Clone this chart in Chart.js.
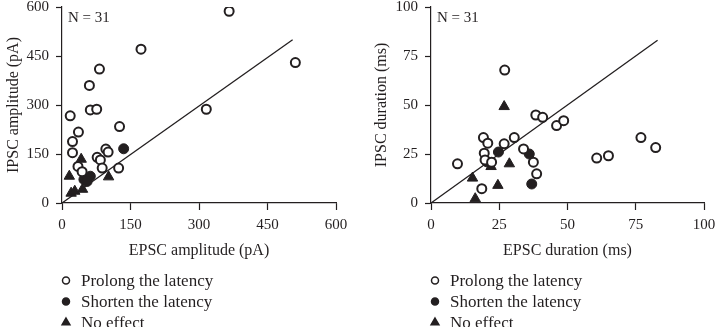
<!DOCTYPE html>
<html>
<head>
<meta charset="utf-8">
<script src="https://cdn.jsdelivr.net/npm/chart.js@4.4.1/dist/chart.umd.min.js"></script>
<style>
    html, body { margin: 0; padding: 0; background: #fff; }
    #wrap { position: relative; width: 717px; height: 327px; overflow: hidden; }
    canvas { position: absolute; top: 0; }
</style>
</head>
<body>
<div id="wrap">
    <canvas id="amp" width="358" height="327" style="left:0"></canvas>
    <canvas id="dur" width="349" height="327" style="left:368px"></canvas>
</div>
<script>
const legendLabels = ["Prolong the latency", "Shorten the latency", "No effect"];
const cellCount = 31;

// amplitude panel, [EPSC, IPSC] in pA
const ampTicks = [0, 150, 300, 450, 600];
const ampProlong = [[366, 587], [173, 471], [511, 430], [82, 410], [60, 360], [62, 285], [76, 287],
    [316, 287], [18, 267], [126, 234], [36, 217], [23, 188], [23, 154], [96, 165], [101, 156],
    [77, 140], [84, 132], [35, 112], [88, 107], [124, 107], [44, 96]];
const ampShorten = [[135, 166], [48, 72], [62, 82], [55, 66]];
const ampNoEffect = [[16, 82], [42, 134], [102, 80], [20, 30], [28, 36], [45, 42]];
const ampFit = [[0, 0], [505, 500]];

// duration panel, [EPSC, IPSC] in ms
const durTicks = [0, 25, 50, 75, 100];
const durProlong = [[27, 67.8], [38.4, 44.9], [40.9, 43.7], [46, 39.5], [48.6, 42], [76.9, 33.4],
    [82.3, 28.3], [60.7, 22.9], [65, 24.1], [9.7, 20], [19.2, 33.4], [19.5, 25.4], [20.8, 30.5],
    [26.8, 30.2], [30.5, 33.4], [33.9, 27.6], [19.8, 22], [22.2, 20.8], [37.5, 20.8], [38.7, 14.9],
    [18.6, 7.3]];
const durShorten = [[24.7, 26], [36, 25], [36.9, 9.7], [20.5, 21]];
const durNoEffect = [[26.8, 49.2], [28.7, 20], [22, 18.6], [15.2, 12.7], [24.5, 9], [16.2, 2.2]];
const durFit = [[0, 0], [83, 83]];

const ink = "#231f20";
Chart.defaults.font.family = "'Liberation Serif', 'DejaVu Serif', serif";
Chart.defaults.color = ink;

const toXY = pts => pts.map(([x, y]) => ({x, y}));

// "N = 31" and the marker legend under the plot
const notesPlugin = {
    id: "notes",
    afterDraw(chart) {
        const ctx = chart.ctx;
        const area = chart.chartArea;
        ctx.save();
        ctx.fillStyle = ink;
        ctx.textAlign = "left";
        ctx.textBaseline = "middle";
        ctx.font = "15px 'Liberation Serif'";
        ctx.fillText("N = " + cellCount, area.left + 6, area.top + 11);

        ctx.font = "17px 'Liberation Serif'";
        let row = 0;
        chart.data.datasets.forEach(ds => {
            if (!ds.label) return;
            const y = 280.5 + row * 21;
            ctx.fillStyle = ds.backgroundColor;
            ctx.strokeStyle = ds.borderColor;
            ctx.lineWidth = 1.5;
            Chart.helpers.drawPoint(ctx, {
                pointStyle: ds.pointStyle,
                radius: ds.pointStyle === "triangle" ? 4.5 : 3.5,
                borderWidth: 1.5,
                rotation: 0,
            }, area.left + 4, y);
            ctx.fillStyle = ink;
            ctx.fillText(ds.label, area.left + 19, y + 1);
            row++;
        });
        ctx.restore();
    },
};

function makeChart(id, prolong, shorten, noEffect, fit, ticks, xTitle, yTitle, yWidth, padRight) {
    const max = ticks[ticks.length - 1];
    const step = ticks[1] - ticks[0];
    const axis = (title, isY) => ({
        type: "linear",
        min: 0,
        max: max,
        border: { display: true, color: ink, width: 1.2 },
        grid: { drawOnChartArea: false, drawTicks: true, tickLength: isY ? 6 : 7, color: ink, tickWidth: 1.2 },
        ticks: { stepSize: step, padding: isY ? 7 : 6, font: { size: 15 }, color: ink },
        title: { display: true, text: title, font: { size: 16 }, color: ink, padding: { top: 4, bottom: 3 } },
        afterFit: scale => {
            if (isY) scale.width = yWidth; else scale.height = 60;
            scale.paddingTop = 0;
            scale.paddingBottom = 0;
            scale.paddingLeft = 0;
            scale.paddingRight = 0;
        },
    });
    return new Chart(document.getElementById(id), {
        type: "scatter",
        data: {
            datasets: [{
                label: legendLabels[0],
                data: toXY(prolong),
                pointStyle: "circle",
                pointRadius: 4.5,
                borderWidth: 2,
                borderColor: ink,
                backgroundColor: "#ffffff",
            }, {
                label: legendLabels[1],
                data: toXY(shorten),
                pointStyle: "circle",
                pointRadius: 5,
                borderWidth: 1,
                borderColor: ink,
                backgroundColor: ink,
            }, {
                label: legendLabels[2],
                data: toXY(noEffect),
                pointStyle: "triangle",
                pointRadius: 6,
                borderWidth: 1,
                borderColor: ink,
                backgroundColor: ink,
            }, {
                type: "line",
                data: toXY(fit),
                borderColor: ink,
                backgroundColor: ink,
                borderWidth: 1.3,
                pointRadius: 0,
                fill: false,
                order: 5,
            }],
        },
        options: {
            responsive: false,
            animation: false,
            layout: { padding: { left: 0, top: 7, right: padRight, bottom: 64 } },
            plugins: {
                legend: { display: false },
                tooltip: { enabled: false },
            },
            scales: {
                x: axis(xTitle, false),
                y: axis(yTitle, true),
            },
        },
        plugins: [notesPlugin],
    });
}

makeChart("amp", ampProlong, ampShorten, ampNoEffect, ampFit, ampTicks,
    "EPSC amplitude (pA)", "IPSC amplitude (pA)", 62, 22);
makeChart("dur", durProlong, durShorten, durNoEffect, durFit, durTicks,
    "EPSC duration (ms)", "IPSC duration (ms)", 63, 13);
</script>
</body>
</html>
